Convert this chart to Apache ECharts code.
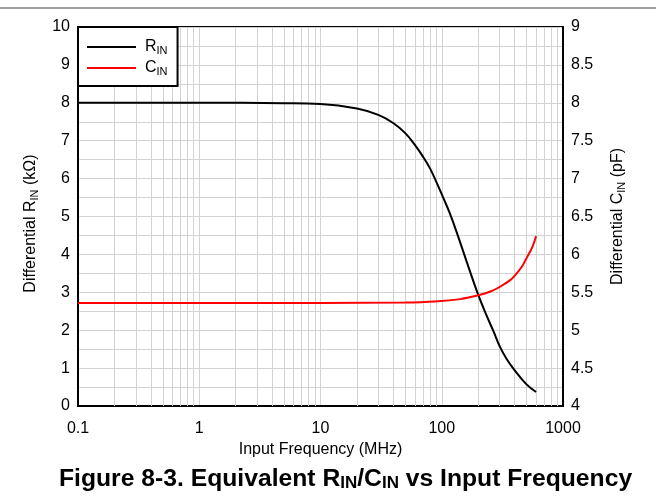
<!DOCTYPE html>
<html><head><meta charset="utf-8">
<script src="https://cdn.jsdelivr.net/npm/echarts@6/dist/echarts.min.js"></script>
<style>html,body{margin:0;padding:0;background:#fff}#c{width:656px;height:502px}</style>
</head><body><div id="c"></div>
<script>
// R_IN (kOhm) vs frequency (MHz)
const rinFreq = [0.1, 1, 5, 10, 20, 30, 40, 50, 60, 70, 80, 90, 105, 116, 134, 162, 200, 237, 268, 300, 346, 400, 500, 600];
const rinValues = [8.0, 8.0, 7.99, 7.97, 7.85, 7.68, 7.46, 7.2, 6.89, 6.58, 6.27, 5.92, 5.43, 5.1, 4.55, 3.77, 2.93, 2.35, 1.96, 1.58, 1.22, 0.94, 0.57, 0.37];
// C_IN (pF) vs frequency (MHz)
const cinFreq = [0.1, 1, 10, 50, 98, 142, 200, 252, 300, 367, 400, 459, 500, 556, 600];
const cinValues = [5.36, 5.36, 5.36, 5.365, 5.385, 5.41, 5.46, 5.51, 5.57, 5.66, 5.72, 5.84, 5.95, 6.09, 6.24];
// minor vertical grid positions (log decades x multipliers)
const gridDecades = [0.1, 1, 10, 100];
const gridMultipliers = [2, 3, 4, 5, 6, 7, 8, 9];

const FONT = 'Liberation Sans, Arial, sans-serif';
const minorX = [];
gridDecades.forEach(d => gridMultipliers.forEach(m => minorX.push({xAxis: +(d * m).toPrecision(6)})));

const subStyle = (fs, lh) => ({fontSize: fs, fontFamily: FONT, color: '#000', verticalAlign: 'bottom', lineHeight: lh});
const nameRich = {a: {fontSize: 16, fontFamily: FONT, color: '#000', lineHeight: 18}, s: subStyle(11, 8)};
const chart = echarts.init(document.getElementById('c'), null, {renderer: 'canvas'});
chart.setOption({
  animation: false,
  backgroundColor: '#fff',
  graphic: [{type: 'line', shape: {x1: 0, y1: 8, x2: 656, y2: 8}, style: {stroke: '#808080', lineWidth: 1.5}}],
  title: {
    text: '{b|Figure 8-3. Equivalent R}{s|IN}{b|/C}{s|IN}{b| vs Input Frequency}',
    left: 54, top: 461,
    textStyle: {
      rich: {
        b: {fontSize: 24.7, fontWeight: 'bold', fontFamily: FONT, color: '#000', lineHeight: 26},
        s: Object.assign(subStyle(17, 12), {fontWeight: 'bold'})
      }
    }
  },
  legend: {
    orient: 'vertical', left: 78, top: 27, z: 20,
    padding: [12, 10, 9, 9],
    icon: 'rect',
    itemWidth: 49, itemHeight: 2, itemGap: 4,
    backgroundColor: '#fff', borderColor: '#000', borderWidth: 2, borderRadius: 0,
    data: ['RIN', 'CIN'],
    formatter: n => '{a|' + n.charAt(0) + '}{s|IN}',
    textStyle: {
      fontSize: 16,
      rich: {
        a: {fontSize: 16, fontFamily: FONT, color: '#000', lineHeight: 18, padding: [0, 0, 0, 4]},
        s: subStyle(11, 8)
      }
    }
  },
  grid: {left: 78, right: 93, top: 27, bottom: 96, show: true, borderColor: '#000', borderWidth: 2, containLabel: false},
  xAxis: {
    type: 'log', logBase: 10, min: 0.1, max: 1000,
    name: 'Input Frequency (MHz)', nameLocation: 'middle', nameGap: 26,
    nameTextStyle: {fontSize: 16, fontFamily: FONT, color: '#000'},
    axisLine: {show: true, lineStyle: {color: '#000', width: 2}},
    axisTick: {show: false},
    axisLabel: {fontSize: 16, fontFamily: FONT, color: '#000', margin: 15, formatter: v => String(+(+v).toPrecision(6))},
    splitLine: {show: true, lineStyle: {color: '#d3d3d3', width: 1}},
    minorTick: {show: false}, minorSplitLine: {show: false}
  },
  yAxis: [{
    type: 'value', min: 0, max: 10, interval: 1, position: 'left',
    name: '{a|Differential R}{s|IN}{a| (kΩ)}', nameLocation: 'middle', nameGap: 38, nameRotate: 90,
    nameTextStyle: {fontSize: 16, fontFamily: FONT, color: '#000', rich: nameRich, padding: [0, 14, 0, 0]},
    axisLine: {show: true, lineStyle: {color: '#000', width: 2}},
    axisTick: {show: false},
    axisLabel: {fontSize: 16, fontFamily: FONT, color: '#000', margin: 8},
    splitLine: {show: true, lineStyle: {color: '#d3d3d3', width: 1}},
    minorTick: {show: false, splitNumber: 2},
    minorSplitLine: {show: true, lineStyle: {color: '#d3d3d3', width: 1}}
  }, {
    type: 'value', min: 4, max: 9, interval: 0.5, position: 'right',
    name: '{a|Differential C}{s|IN}{a| (pF)}', nameLocation: 'middle', nameGap: 46, nameRotate: 90,
    nameTextStyle: {fontSize: 16, fontFamily: FONT, color: '#000', rich: nameRich},
    axisLine: {show: true, lineStyle: {color: '#000', width: 2}},
    axisTick: {show: false},
    axisLabel: {fontSize: 16, fontFamily: FONT, color: '#000', margin: 8},
    splitLine: {show: false}
  }],
  series: [{
    name: 'grid', type: 'line', data: [], silent: true, z: 1,
    markLine: {silent: true, symbol: ['none', 'none'], animation: false, z: 1,
      label: {show: false}, lineStyle: {color: '#d3d3d3', width: 1, type: 'solid'},
      emphasis: {disabled: true}, data: minorX}
  }, {
    name: 'RIN', type: 'line', yAxisIndex: 0, zlevel: 1, z: 3,
    data: rinFreq.map((f, i) => [f, rinValues[i]]),
    showSymbol: false, symbol: 'none', smooth: 0.4,
    lineStyle: {color: '#000', width: 2}, itemStyle: {color: '#000'}
  }, {
    name: 'CIN', type: 'line', yAxisIndex: 1, zlevel: 1, z: 3,
    data: cinFreq.map((f, i) => [f, cinValues[i]]),
    showSymbol: false, symbol: 'none', smooth: 0.4,
    lineStyle: {color: '#ff0000', width: 2}, itemStyle: {color: '#ff0000'}
  }]
});
</script></body></html>
